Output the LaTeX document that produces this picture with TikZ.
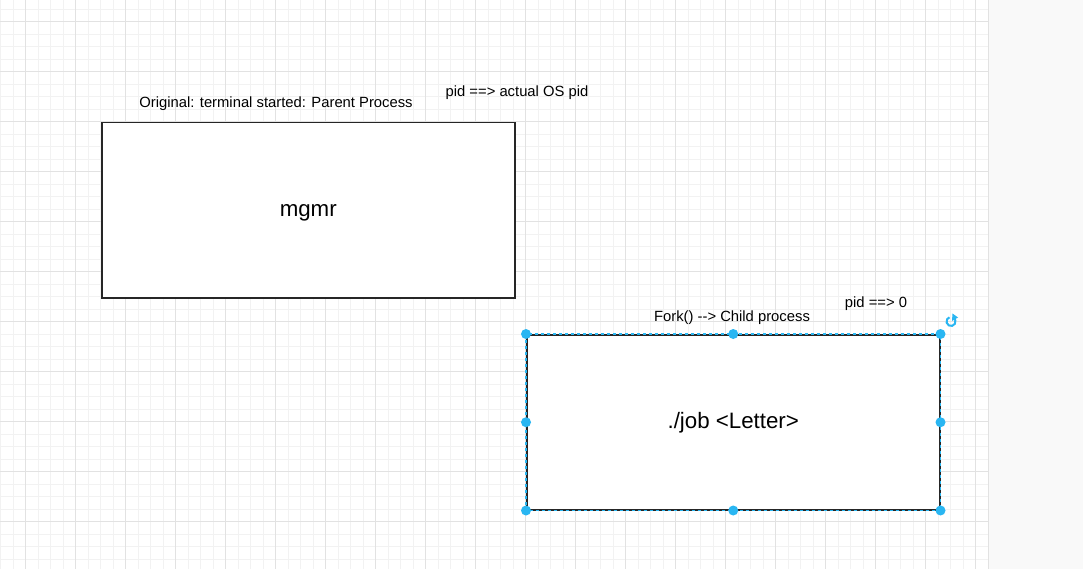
\documentclass[tikz,border=0pt]{standalone}
\usepackage{fontspec}
\setmainfont{Liberation Sans}
\definecolor{gmaj}{HTML}{E2E2E2}
\definecolor{gmin}{HTML}{F2F2F2}
\definecolor{sel}{HTML}{29B6F2}
\definecolor{side}{HTML}{F9F9F9}
\begin{document}
\begin{tikzpicture}[x=1pt,y=-1pt,
  box/.style={draw=black!85,line width=1.5pt,fill=white,minimum width=413pt,minimum height=175pt,inner sep=0pt,anchor=north west},
  lbl/.style={font=\fontsize{14.8}{17}\selectfont,inner sep=0pt,text height=11.2pt,text depth=3pt},
  big/.style={font=\fontsize{22.3}{26}\selectfont,inner sep=0pt,text height=17pt,text depth=4.5pt},
  handle/.style={circle,fill=sel,minimum size=10pt,inner sep=0pt}]
\useasboundingbox (0,0) rectangle (1083,569);
\fill[white] (0,0) rectangle (988,569);
\fill[side] (989,0) rectangle (1083,569);
% minor grid
\foreach \i in {0,...,79} {\draw[gmin,line width=0.8pt] (0.5+12.5*\i,0) -- (0.5+12.5*\i,569);}
\foreach \j in {0,...,46} {\draw[gmin,line width=0.8pt] (0,9+12.5*\j) -- (988,9+12.5*\j);}
% major grid
\foreach \i in {0,...,19} {\draw[gmaj,line width=0.8pt] (25.5+50*\i,0) -- (25.5+50*\i,569);}
\foreach \j in {0,...,11} {\draw[gmaj,line width=0.8pt] (0,21.5+50*\j) -- (988,21.5+50*\j);}
\draw[gmaj,line width=0.8pt] (988.5,0) -- (988.5,569);
% boxes
\node[box] (mgmr) at (101,122) {};
\node[big] at (mgmr.center) {mgmr};
\node[box] (job) at (526,334) {};
\node[big] at (job.center) {./job <Letter>};
\draw[sel,line width=1.2pt,dash pattern=on 3pt off 3pt] (job.north west) rectangle (job.south east);
% labels
\node[lbl] (orig) at (276,103) {Original: terminal started: Parent Process};
\node[lbl] (pidos) at (517,92) {pid ==> actual OS pid};
\node[lbl] (fork) at (732,317) {Fork() -{}-> Child process};
\node[lbl] (pid0) at (876,303) {pid ==> 0};
% handles
\foreach \a in {north west,north,north east,west,east,south west,south,south east}
  {\node[handle] at (job.\a) {};}
% rotate icon
\node (rot) at (951,321.5) {};
\draw[sel,line width=2pt] (rot.center) ++(60:4.5pt) arc[start angle=60,end angle=-250,radius=4.5pt];
\fill[sel] (952.5,313.5) -- (958,317.5) -- (952,321) -- cycle;
\end{tikzpicture}
\end{document}
